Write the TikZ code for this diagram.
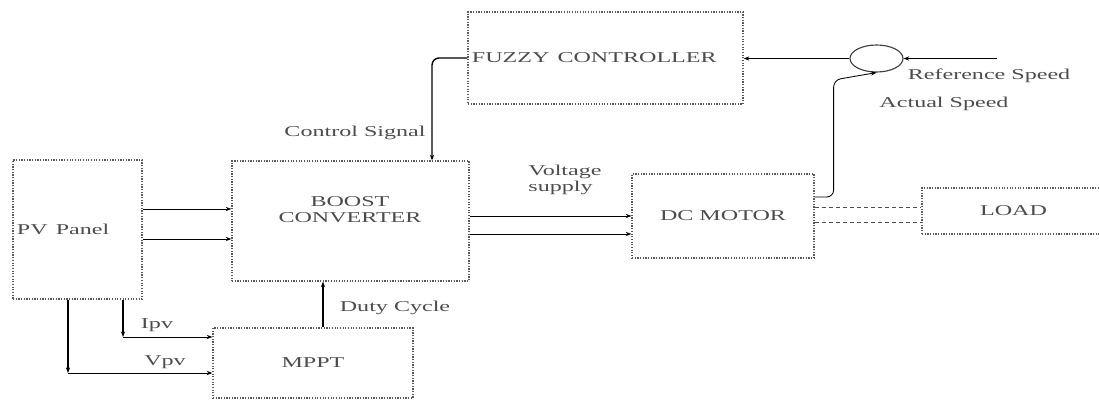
\documentclass[tikz,border=0pt]{standalone}
\usepackage{graphicx}
\usepackage{fontspec}
\setmainfont{Liberation Serif}
\usetikzlibrary{shapes.geometric, positioning, arrows.meta, calc}
\newcommand{\wide}[1]{\scalebox{1.6}[1]{#1}}

\begin{document}
\begin{tikzpicture}[
    x=0.025cm, y=-0.025cm,
    every node/.style={font=\fontsize{10.7}{11.3}\selectfont, text=black!70},
    box/.style={draw=black!65, densely dotted, line width=0.9pt, rectangle, inner sep=0.1cm},
    sumjn/.style={draw=black!75, ellipse, line width=0.8pt, minimum width=1.325cm, minimum height=0.675cm, inner sep=0pt},
    arr/.style={draw, line width=0.6pt, -{Stealth[length=4pt,width=3pt]}},
    link/.style={draw=black!70, densely dashed, line width=0.6pt}
]
    \useasboundingbox (0,0) rectangle (1099,401);

    % Blocks
    \node[box, minimum width=6.875cm, minimum height=2.3cm, text width=6.675cm, align=left] (fuzzy) at (605.5,58) {\wide{FUZZY CONTROLLER}};
    \node[box, minimum width=3.225cm, minimum height=3.475cm, text width=3.025cm, align=left] (pv) at (77.5,229.5) {\wide{PV Panel}};
    \node[box, minimum width=5.925cm, minimum height=3cm] (boost) at (350.5,221) {};
    \node[align=center] (boosttxt) at (350,210) {\wide{BOOST}\\\wide{CONVERTER}};
    \node[box, minimum width=4.55cm, minimum height=2.1cm] (motor) at (723,216) {\wide{DC MOTOR}};
    \node[box, minimum width=4.575cm, minimum height=1.15cm] (load) at (1013.5,211) {\wide{LOAD}};
    \node[box, minimum width=5cm, minimum height=1.75cm] (mppt) at (313,363) {\wide{MPPT}};
    \node[sumjn] (sum) at (876.5,58.5) {};
    \coordinate (ref) at (997,58.5);

    % Speed loop
    \draw[arr] (ref) -- (sum.east);
    \draw[arr] (sum.west) -- (sum.west -| fuzzy.east);
    \draw[arr, rounded corners=5pt] ([yshift=0.475cm]motor.east) -- ++(19,0) -- ++(0,-117) -- (sum.south);
    \draw[arr, line width=1pt, rounded corners=5pt] (fuzzy.west) -| ([xshift=2.0375cm]boost.north);

    % Power path
    \draw[arr] ([yshift=0.5125cm]pv.east) -- ([yshift=0.5125cm]pv.east -| boost.west);
    \draw[arr] ([yshift=-0.2375cm]pv.east) -- ([yshift=-0.2375cm]pv.east -| boost.west);
    \draw[arr] ([yshift=0.125cm]boost.east) -- ([yshift=0.125cm]boost.east -| motor.west);
    \draw[arr] ([yshift=-0.325cm]boost.east) -- ([yshift=-0.325cm]boost.east -| motor.west);
    \draw[link] ([yshift=0.225cm]motor.east) -- ([yshift=0.225cm]motor.east -| load.west);
    \draw[link] ([yshift=-0.15cm]motor.east) -- ([yshift=-0.15cm]motor.east -| load.west);

    % MPPT
    \draw[arr, line width=1pt] ([xshift=0.25cm]mppt.north) -- ([xshift=0.25cm]mppt.north |- boost.south);
    \coordinate (ipvin) at ([yshift=0.65cm]mppt.west);
    \coordinate (vpvin) at ([yshift=-0.25cm]mppt.west);
    \coordinate (ipv) at ([xshift=1.1375cm]pv.south |- ipvin);
    \coordinate (vpv) at ([xshift=-0.2375cm]pv.south |- vpvin);
    \draw[arr, line width=1pt] ([xshift=1.1375cm]pv.south) -- (ipv);
    \draw[arr] (ipv) -- (ipvin);
    \draw[arr, line width=1pt] ([xshift=-0.2375cm]pv.south) -- (vpv);
    \draw[arr] (vpv) -- (vpvin);

    % Labels
    \node (ctrllbl) at (355,133) {\wide{Control Signal}};
    \node[align=left] (vlbl) at (565,180) {\wide{Voltage}\\\wide{supply}};
    \node (dutylbl) at (395,308) {\wide{Duty Cycle}};
    \node (ipvlbl) at (157,325) {\wide{Ipv}};
    \node (vpvlbl) at (165,362) {\wide{Vpv}};
    \node (reflbl) at (989,76) {\wide{Reference Speed}};
    \node (actlbl) at (944,104) {\wide{Actual Speed}};
\end{tikzpicture}
\end{document}
